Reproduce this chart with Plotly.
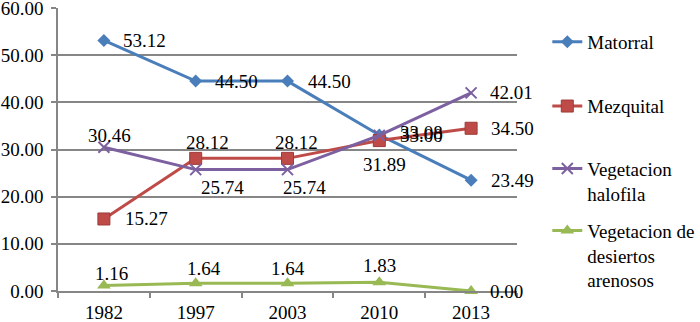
import plotly.graph_objects as go

years = ["1982", "1997", "2003", "2010", "2013"]
matorral = [53.12, 44.50, 44.50, 33.08, 23.49]
mezquital = [15.27, 28.12, 28.12, 31.89, 34.50]
halofila = [30.46, 25.74, 25.74, 33.00, 42.01]
desiertos = [1.16, 1.64, 1.64, 1.83, 0.00]
names = ["Matorral", "Mezquital", "Vegetacion<br>halofila", "Vegetacion de<br>desiertos<br>arenosos"]
y_ticks = [0, 10, 20, 30, 40, 50, 60]

FONT = "Liberation Serif"
FS = 19

styles = [
    dict(color="#4A7EBB", symbol="diamond", size=10, lw=0),
    dict(color="#BE4B48", symbol="square", size=12, lw=1),
    dict(color="#7D60A0", symbol="x-thin", size=11, lw=2),
    dict(color="#98B954", symbol="triangle-up", size=12, lw=0),
]
series = [matorral, mezquital, halofila, desiertos]

# label placement (anchor, xshift, yshift) per point
label_pos = [
    [("left", 17, 0), ("left", 17, 0), ("left", 18, 0), ("left", 19, 2), ("left", 18, 0)],
    [("left", 19, 0), ("center", 12, 16), ("center", 9, 16), ("center", 5, -24), ("left", 18, 0)],
    [("center", 6, 12), ("center", 27, -18), ("center", 17, -18), ("left", 19, 0), ("left", 17, 0)],
    [("center", 8, 12), ("center", 8, 15), ("center", 0, 15), ("center", 0, 17), ("left", 17, 0)],
]

legend_y = [0.880, 0.653, 0.388, 0.125]

fig = go.Figure()
for i, (vals, st) in enumerate(zip(series, styles)):
    marker = dict(symbol=st["symbol"], size=st["size"], color=st["color"])
    if st["symbol"] == "x-thin":
        marker["line"] = dict(color=st["color"], width=st["lw"])
    elif st["lw"]:
        marker["line"] = dict(color="#9E3B38", width=st["lw"])
    else:
        marker["line"] = dict(width=0)
    lg = "legend" if i == 0 else f"legend{i+1}"
    fig.add_trace(go.Scatter(
        x=years, y=vals, name=names[i], mode="lines+markers",
        line=dict(color=st["color"], width=3),
        marker=marker, legend=lg, cliponaxis=False,
    ))

annotations = []
for i, vals in enumerate(series):
    for j, v in enumerate(vals):
        anc, dx, dy = label_pos[i][j]
        annotations.append(dict(
            x=j, y=v, xref="x", yref="y", text=f"{v:.2f}", showarrow=False,
            xanchor=anc, yanchor="middle", xshift=dx, yshift=dy,
            font=dict(family=FONT, size=FS, color="black"),
        ))

layout_legends = {}
for i in range(4):
    key = "legend" if i == 0 else f"legend{i+1}"
    layout_legends[key] = dict(
        x=1.066, y=legend_y[i], xanchor="left", yanchor="middle",
        font=dict(family=FONT, size=FS, color="black"),
        bgcolor="rgba(0,0,0,0)", borderwidth=0, valign="top",
    )

fig.update_layout(
    width=700, height=322,
    margin=dict(l=58, r=183, t=8, b=31, autoexpand=False),
    paper_bgcolor="white", plot_bgcolor="white",
    font=dict(family=FONT, size=FS, color="black"),
    showlegend=True,
    annotations=annotations,
    **layout_legends,
)
fig.update_xaxes(
    type="category", range=[-0.5, 4.5], automargin=False,
    showline=True, linecolor="#868686", linewidth=1.5,
    ticks="outside", tickson="boundaries", ticklen=5, tickcolor="#868686", tickwidth=1.5,
    showgrid=False, tickfont=dict(family=FONT, size=FS, color="black"),
    ticklabeloverflow="allow", ticklabelstandoff=3,
)
fig.update_yaxes(
    range=[0, 60], tickvals=y_ticks, ticktext=[f"{t:.2f}" for t in y_ticks],
    automargin=False, ticklabeloverflow="allow", ticklabelstandoff=4,
    showline=True, linecolor="#868686", linewidth=1.5,
    ticks="outside", ticklen=5, tickcolor="#868686", tickwidth=1.5,
    showgrid=True, gridcolor="#868686", gridwidth=1.5, zeroline=False,
    tickfont=dict(family=FONT, size=FS, color="black"),
)

fig.write_html("out.html", config={"displayModeBar": False},
               post_script="document.body.style.margin='0';")
